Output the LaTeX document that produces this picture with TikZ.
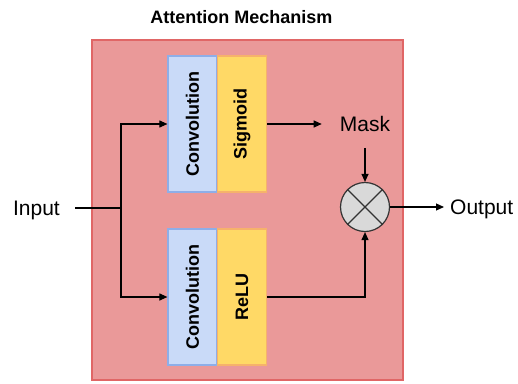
\documentclass[tikz,border=0pt]{standalone}
\usepackage{fontspec}
\setmainfont{Liberation Sans}
\usetikzlibrary{arrows.meta}

\definecolor{mechfill}{HTML}{EA9999}
\definecolor{mechline}{HTML}{E06666}
\definecolor{convfill}{HTML}{C9DAF8}
\definecolor{convline}{HTML}{8EAEE8}
\definecolor{actfill}{HTML}{FFD966}
\definecolor{actline}{HTML}{F6B26B}
\definecolor{multfill}{HTML}{D9D9D9}

\tikzset{
	layer/.style={rectangle, minimum width=136pt, minimum height=49pt, line width=1.2pt,
		inner sep=0pt, font=\fontsize{18}{22}\selectfont\bfseries, rotate=90},
	convbox/.style={layer, draw=convline, fill=convfill},
	actbox/.style={layer, draw=actline, fill=actfill},
	label/.style={inner sep=0pt, font=\fontsize{21}{25}\selectfont},
	flow/.style={line width=1.1pt, -{Triangle[length=8pt,width=7pt]}}
}

\begin{document}
\begin{tikzpicture}[x=1pt, y=-1pt]
			%%%%% START %%%%%
			\useasboundingbox (0, 0) rectangle (518, 383);
			
			\node[font=\fontsize{18}{22}\selectfont\bfseries] (title) at (241.5, 17) {Attention Mechanism};
			\draw[line width=1.5pt, draw=mechline, fill=mechfill] (92, 40) rectangle (403, 380);
			
			\node[convbox] (conv1) at (192.5, 124) {Convolution};
			\node[actbox] (sig) at (242, 124) {Sigmoid};
			\node[convbox] (conv2) at (192.5, 297) {Convolution};
			\node[actbox] (relu) at (242, 297) {ReLU};
			
			\node[circle, draw=black!80, fill=multfill, line width=1.2pt, minimum size=49pt] (mult) at (365, 207) {};
			\draw[black!80, line width=1.2pt] (mult.north west) -- (mult.south east);
			\draw[black!80, line width=1.2pt] (mult.north east) -- (mult.south west);
			
			\node[label, anchor=base east] (in) at (60, 215.5) {Input};
			\node[label] (mask) at (365, 124) {Mask};
			\node[label, anchor=base west] (out) at (450, 214.5) {Output};
			\coordinate (split) at (121, 208);
			
			\draw[line width=1.1pt, shorten <=15pt] (in.east |- split) -- (split);
			\draw[flow] (split) |- (conv1.north);
			\draw[flow] (split) |- (conv2.north);
			\draw[flow, shorten >=18pt] (sig.south) -- (mask.west);
			\draw[flow, shorten <=16pt] (mask.south) -- (mult.north);
			\draw[flow] (relu.south) -| (mult.south);
			\draw[flow, shorten >=6pt] (mult.east) -- (out.west |- mult.east);
			
			%%%%% END %%%%%
\end{tikzpicture}
\end{document}
